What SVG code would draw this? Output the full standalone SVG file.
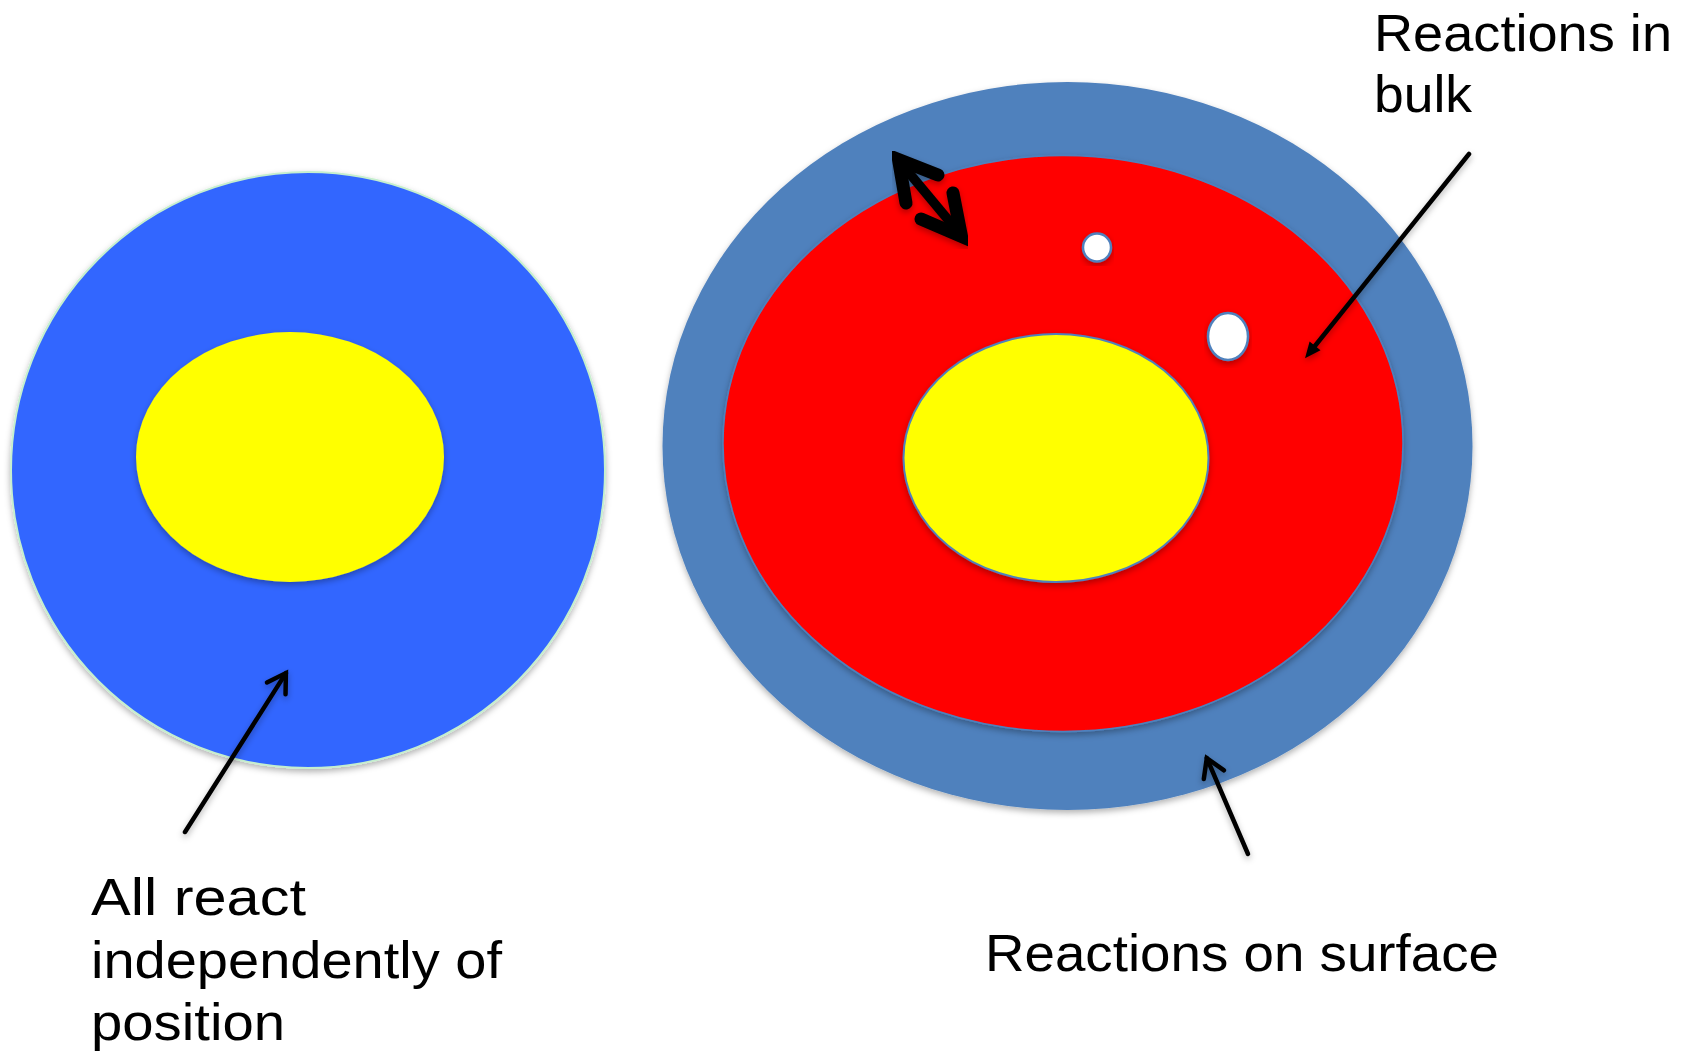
<svg xmlns="http://www.w3.org/2000/svg" width="1684" height="1055" viewBox="0 0 1684 1055">
<style>
  .lbl { font-family: "Comic Sans MS", "Liberation Sans", sans-serif; font-size: 52px; fill: #000; }
  .conn { stroke: #000; stroke-width: 4.5; fill: none; stroke-linecap: round; }
  .shade { filter: url(#sh); }
</style>
<defs>
  <filter id="sh" x="-10%" y="-10%" width="120%" height="125%">
    <feDropShadow dx="0" dy="3" stdDeviation="3" flood-color="#000" flood-opacity="0.3"/>
  </filter>
  <marker id="open" viewBox="-24 -14 30 28" refX="0" refY="0" markerWidth="30" markerHeight="28" orient="auto" markerUnits="userSpaceOnUse">
    <path d="M-18,-11 L0,0 L-18,11" fill="none" stroke="#000" stroke-width="4.5" stroke-linecap="round" stroke-linejoin="miter"/>
  </marker>
  <marker id="solid" viewBox="-10 -10 24 20" refX="0" refY="0" markerWidth="24" markerHeight="20" orient="auto" markerUnits="userSpaceOnUse">
    <path d="M-6,-7 L10,0 L-6,7 z" fill="#000"/>
  </marker>
</defs>
<rect width="1684" height="1055" fill="#fff"/>

<g id="left-cell">
  <ellipse class="shade" cx="308" cy="470" rx="297" ry="298" fill="#3366FF" stroke="#C6EFCE" stroke-width="2"/>
  <ellipse class="shade" cx="290" cy="457" rx="154" ry="125" fill="#FFFF00"/>
</g>

<g id="right-cell">
  <ellipse class="shade" cx="1067.5" cy="446" rx="405" ry="364" fill="#4F81BD"/>
  <ellipse class="shade" cx="1063" cy="443.5" rx="340" ry="288" fill="#FF0000" stroke="#4F81BD" stroke-width="1.5"/>
  <ellipse class="shade" cx="1056" cy="458" rx="152.5" ry="124" fill="#FFFF00" stroke="#4F81BD" stroke-width="2"/>
</g>

<g id="particle-1">
  <ellipse class="shade" cx="1097" cy="247.5" rx="14" ry="14" fill="#fff" stroke="#4F81BD" stroke-width="2.5"/>
</g>
<g id="particle-2">
  <ellipse class="shade" cx="1228" cy="336.5" rx="20" ry="23.5" fill="#fff" stroke="#4F81BD" stroke-width="2.5"/>
</g>

<g id="exchange-arrow" class="shade" stroke="#000" fill="none">
  <line x1="900" y1="162" x2="960" y2="234" stroke-width="9.5"/>
  <polyline points="938,175 898.5,159.5 906,203" stroke-width="13" stroke-linecap="round" stroke-linejoin="miter" stroke-miterlimit="10"/>
  <polyline points="921,219 961.5,236.5 953,193" stroke-width="13" stroke-linecap="round" stroke-linejoin="miter" stroke-miterlimit="10"/>
</g>

<g id="connectors" class="shade">
  <line class="conn" x1="185" y1="832" x2="285.9" y2="673.1" marker-end="url(#open)"/>
  <line class="conn" x1="1469" y1="154" x2="1311.3" y2="350.5" marker-end="url(#solid)"/>
  <line class="conn" x1="1248" y1="854" x2="1206.8" y2="758.1" marker-end="url(#open)"/>
</g>

<g id="label-left">
  <text class="lbl" x="91" y="915" textLength="215" lengthAdjust="spacingAndGlyphs">All react</text>
  <text class="lbl" x="91" y="978" textLength="411" lengthAdjust="spacingAndGlyphs">independently of</text>
  <text class="lbl" x="91" y="1040" textLength="194" lengthAdjust="spacingAndGlyphs">position</text>
</g>
<g id="label-bulk">
  <text class="lbl" x="1374" y="51" textLength="298" lengthAdjust="spacingAndGlyphs">Reactions in</text>
  <text class="lbl" x="1374" y="112" textLength="98" lengthAdjust="spacingAndGlyphs">bulk</text>
</g>
<g id="label-surface">
  <text class="lbl" x="985" y="971" textLength="514" lengthAdjust="spacingAndGlyphs">Reactions on surface</text>
</g>
</svg>
